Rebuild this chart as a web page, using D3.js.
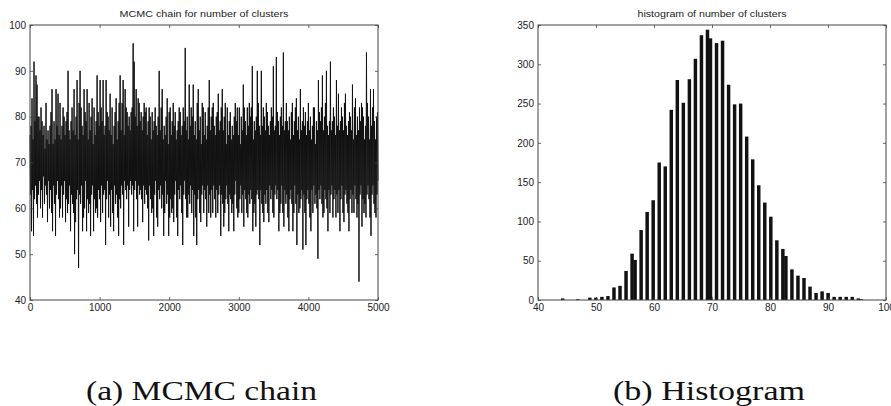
<!DOCTYPE html>
<html>
<head>
<meta charset="utf-8">
<script src="https://cdn.jsdelivr.net/npm/d3@7"></script>
<style>
  html, body { margin: 0; padding: 0; background: #fff; }
  svg { display: block; }
  .tick line { stroke: #444; stroke-width: 0.8; }
  .domain { display: none; }
</style>
</head>
<body>
<svg id="fig" width="891" height="406"></svg>
<script>
// Thinned MCMC trace of the number of clusters (5000 iterations in total)
const chainIterations = 5000;
const chain = [
  76,63,78,55,84,64,75,54,92,62,79,65,89,61,87,58,80,63,80,66,
  77,60,82,64,79,58,76,67,78,61,73,65,83,63,75,57,77,66,74,60,
  78,64,81,59,86,55,74,65,79,61,75,54,86,63,78,66,85,62,76,58,
  83,60,75,65,78,58,82,63,80,66,76,57,79,62,81,59,90,61,77,65,
  75,55,79,63,82,61,77,59,86,50,76,57,80,62,88,64,75,47,83,63,
  90,61,82,65,78,55,76,58,86,60,81,66,79,55,86,62,75,59,83,61,
  77,54,80,63,84,65,74,55,82,62,76,59,79,60,89,58,81,64,78,62,
  88,57,82,65,79,59,88,63,76,64,78,52,88,62,81,66,80,58,77,63,
  85,56,76,64,82,59,74,55,78,65,81,61,84,63,75,58,79,54,83,62,
  89,60,77,65,83,63,88,52,76,66,86,64,82,62,81,65,78,56,80,64,
  77,66,81,63,82,65,96,55,92,64,80,66,86,62,78,56,84,65,83,63,
  79,64,81,62,77,57,80,65,83,61,81,64,82,63,76,60,79,53,82,65,
  80,62,75,59,81,60,77,54,79,63,82,66,78,58,76,56,80,64,90,62,
  77,65,82,60,86,63,75,54,78,59,76,66,80,61,84,63,74,54,81,58,
  82,62,76,59,79,60,83,57,78,63,81,66,75,58,77,54,79,64,82,62,
  81,65,76,59,78,52,82,63,79,66,95,62,77,58,80,58,75,63,87,61,
  78,65,82,59,80,64,87,54,76,63,79,58,75,52,83,62,86,64,77,59,
  80,57,74,63,83,65,82,59,76,64,81,62,75,56,78,65,82,59,88,63,
  77,58,80,64,82,59,83,65,78,62,76,58,80,64,81,59,85,63,77,65,
  79,54,82,63,86,61,77,56,80,59,83,62,74,65,82,61,76,55,79,63,
  81,62,75,59,78,61,76,55,80,63,83,66,79,60,82,58,76,59,82,62,
  74,65,80,59,77,63,87,56,82,64,79,62,76,59,82,58,78,63,83,61,
  80,64,82,62,91,55,75,59,79,61,77,56,80,63,90,64,83,62,78,52,
  76,64,90,61,78,59,82,57,80,63,77,61,83,64,81,59,78,57,76,65,
  79,62,82,64,80,59,91,58,77,63,78,65,93,62,81,64,79,55,76,59,
  80,61,82,65,78,59,94,56,77,64,79,61,83,63,79,58,77,55,80,62,
  75,64,81,61,83,55,76,59,79,65,82,61,84,52,77,63,80,59,75,60,
  86,62,77,64,79,51,82,63,78,59,81,52,76,62,79,64,83,61,77,58,
  80,55,75,64,78,59,82,65,82,61,74,63,79,60,77,49,88,64,81,62,
  79,65,82,61,89,58,77,59,80,64,83,62,90,60,78,55,76,64,79,59,
  92,63,77,65,79,58,82,62,80,64,76,58,88,63,78,59,85,64,77,55,
  79,62,82,65,80,59,77,57,83,63,85,64,78,61,76,59,79,55,81,62,
  80,64,77,59,87,63,75,59,82,65,84,62,76,58,80,61,77,44,82,63,
  79,65,83,56,82,62,80,59,75,61,78,58,94,63,83,65,80,62,75,58,
  86,54,78,63,82,65,86,61,79,59,75,58,80,63,81,66
];
const chainXTicks = [0, 1000, 2000, 3000, 4000, 5000];
const chainYTicks = [40, 50, 60, 70, 80, 90, 100];

// Histogram of the cluster count: each observed value and its frequency
const clusterValues = [44,45,46,47,48,49,50,51,52,53,54,55,56,57,58,59,60,61,62,63,64,65,66,67,68,69,70,
                       71,72,73,74,75,76,77,78,79,80,81,82,83,84,85,86,87,88,89,90,91,92,93,94,95,96];
const clusterCounts = [2,0,0,1,0,3,3,4,5,16,18,37,59,51,89,112,127,175,170,242,280,251,281,307,337,344,333,
                       327,330,274,249,250,208,179,146,124,106,76,65,56,39,31,28,17,9,11,9,4,4,4,4,2,1];
const histBins = 100;
const histXTicks = [40, 50, 60, 70, 80, 90, 100];
const histYTicks = [0, 50, 100, 150, 200, 250, 300, 350];

const titles = ["MCMC chain for number of clusters", "histogram of number of clusters"];
const captions = ["(a) MCMC chain", "(b) Histogram"];

const sansFont = "Liberation Sans, Arial, Helvetica, sans-serif";
const serifFont = "Liberation Serif, Tinos, Times New Roman, Times, serif";

const svg = d3.select("#fig");
const plotTop = 25, plotBottom = 300;
const panelA = { left: 30, right: 378 };
const panelB = { left: 538, right: 886 };

// Axes box with inward ticks on all four sides (labels on left and bottom only)
function frame(g, x, y, xTicks, yTicks, xr) {
  const tk = 3;
  const axes = [
    g.append("g").attr("transform", `translate(0,${plotBottom})`)
      .call(d3.axisBottom(x).tickValues(xTicks).tickSizeInner(-tk).tickSizeOuter(0).tickPadding(4).tickFormat(d3.format("d"))),
    g.append("g").attr("transform", `translate(0,${plotTop})`)
      .call(d3.axisTop(x).tickValues(xTicks).tickSizeInner(-tk).tickSizeOuter(0).tickFormat("")),
    g.append("g").attr("transform", `translate(${xr[0]},0)`)
      .call(d3.axisLeft(y).tickValues(yTicks).tickSizeInner(-tk).tickSizeOuter(0).tickPadding(4).tickFormat(d3.format("d"))),
    g.append("g").attr("transform", `translate(${xr[1]},0)`)
      .call(d3.axisRight(y).tickValues(yTicks).tickSizeInner(-tk).tickSizeOuter(0).tickFormat(""))
  ];
  axes.forEach(a => a.attr("font-family", sansFont).attr("font-size", 10)
    .selectAll("text").attr("fill", "#222"));
  g.append("rect")
    .attr("x", xr[0]).attr("y", plotTop)
    .attr("width", xr[1] - xr[0]).attr("height", plotBottom - plotTop)
    .attr("fill", "none").attr("stroke", "#444").attr("stroke-width", 1);
}

function title(g, text, cx, width) {
  g.append("text")
    .attr("x", cx - width / 2).attr("y", 17)
    .attr("textLength", width).attr("lengthAdjust", "spacingAndGlyphs")
    .attr("font-family", sansFont)
    .attr("font-size", 9.5).attr("fill", "#222")
    .text(text);
}

function caption(text, x, width) {
  svg.append("text")
    .attr("x", x).attr("y", 400)
    .attr("textLength", width).attr("lengthAdjust", "spacingAndGlyphs")
    .attr("font-family", serifFont)
    .attr("font-size", 28).attr("fill", "#111")
    .text(text);
}

// ---- (a) trace plot ----
const gA = svg.append("g");
const xA = d3.scaleLinear().domain([0, chainIterations]).range([panelA.left, panelA.right]);
const yA = d3.scaleLinear().domain([40, 100]).range([plotBottom, plotTop]);
const step = chainIterations / (chain.length - 1);
const trace = d3.line().x((d, i) => xA(i * step)).y(d => yA(d));
gA.append("path")
  .datum(chain)
  .attr("d", trace)
  .attr("fill", "none")
  .attr("stroke", "#111")
  .attr("stroke-width", 1.0)
  .attr("stroke-linejoin", "bevel");
frame(gA, xA, yA, chainXTicks, chainYTicks, [panelA.left, panelA.right]);
title(gA, titles[0], (panelA.left + panelA.right) / 2, 169);

// ---- (b) histogram ----
const gB = svg.append("g");
const xB = d3.scaleLinear().domain([40, 100]).range([panelB.left, panelB.right]);
const yB = d3.scaleLinear().domain([0, 350]).range([plotBottom, plotTop]);
const observed = clusterValues.filter((v, i) => clusterCounts[i] > 0);
const lo = d3.min(observed), hi = d3.max(observed);
const binWidth = (hi - lo) / histBins;
// equal-width bins over [lo, hi], right-closed like a classic hist()
const binOf = v => Math.max(0, Math.ceil((v - lo) * histBins / (hi - lo)) - 1);
const bars = clusterValues.map((v, i) => ({ center: lo + (binOf(v) + 0.5) * binWidth, count: clusterCounts[i] }))
  .filter(d => d.count > 0);
const barW = xB(lo + binWidth * 1.15) - xB(lo);
gB.selectAll("rect.bar")
  .data(bars)
  .join("rect")
  .attr("class", "bar")
  .attr("x", d => xB(d.center) - barW / 2)
  .attr("width", barW)
  .attr("y", d => yB(d.count))
  .attr("height", d => yB(0) - yB(d.count))
  .attr("fill", "#111");
frame(gB, xB, yB, histXTicks, histYTicks, [panelB.left, panelB.right]);
title(gB, titles[1], (panelB.left + panelB.right) / 2, 149);

caption(captions[0], 86, 231);
caption(captions[1], 613, 192);
</script>
</body>
</html>
